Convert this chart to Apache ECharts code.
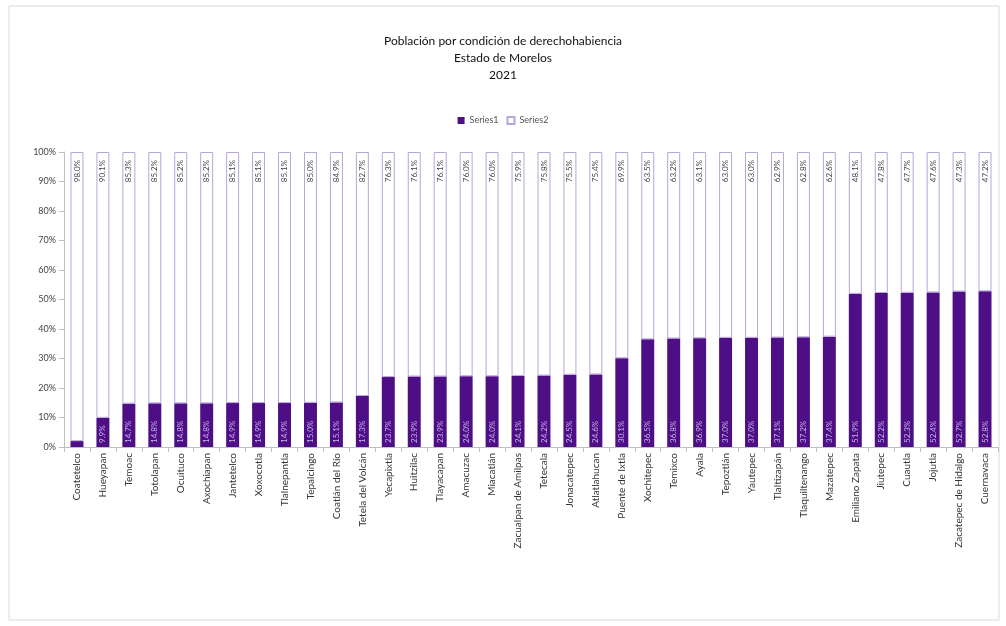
<!DOCTYPE html>
<html>
<head>
<meta charset="utf-8">
<script src="https://cdn.jsdelivr.net/npm/echarts@6/dist/echarts.min.js"></script>
<style>html,body{margin:0;padding:0;background:#fff}#c{width:1006px;height:626px}</style>
</head>
<body>
<div id="c"></div>
<script>
const categories = ["Coatetelco","Hueyapan","Temoac","Totolapan","Ocuituco","Axochiapan","Jantetelco","Xoxocotla","Tlalnepantla","Tepalcingo","Coatlán del Río","Tetela del Volcán","Yecapixtla","Huitzilac","Tlayacapan","Amacuzac","Miacatlán","Zacualpan de Amilpas","Tetecala","Jonacatepec","Atlatlahucan","Puente de Ixtla","Xochitepec","Temixco","Ayala","Tepoztlán","Yautepec","Tlaltizapán","Tlaquiltenango","Mazatepec","Emiliano Zapata","Jiutepec","Cuautla","Jojutla","Zacatepec de Hidalgo","Cuernavaca"];
const series2 = [98.0,90.1,85.3,85.2,85.2,85.2,85.1,85.1,85.1,85.0,84.9,82.7,76.3,76.1,76.1,76.0,76.0,75.9,75.8,75.5,75.4,69.9,63.5,63.2,63.1,63.0,63.0,62.9,62.8,62.6,48.1,47.8,47.7,47.6,47.3,47.2];
const series1 = [2.0,9.9,14.7,14.8,14.8,14.8,14.9,14.9,14.9,15.0,15.1,17.3,23.7,23.9,23.9,24.0,24.0,24.1,24.2,24.5,24.6,30.1,36.5,36.8,36.9,37.0,37.0,37.1,37.2,37.4,51.9,52.2,52.3,52.4,52.7,52.8];
const yTicks = [0,10,20,30,40,50,60,70,80,90,100];

const chart = echarts.init(document.getElementById('c'));
const font = 'Lato, "DejaVu Sans", sans-serif';
chart.setOption({
  animation: false,
  textStyle: {fontFamily: font},
  graphic: [{type:'rect', shape:{x:9,y:6,width:990,height:614}, style:{fill:'none', stroke:'#d9d9d9', lineWidth:1}}],
  title: {
    text: 'Población por condición de derechohabiencia\nEstado de Morelos\n2021',
    left: 'center', top: 28,
    textStyle: {fontSize: 12, fontWeight: 'normal', color: '#111', lineHeight: 17, fontFamily: font}
  },
  legend: {
    top: 111, left: 'center', itemWidth: 7, itemHeight: 7, itemGap: 8,
    textStyle: {fontSize: 9, color: '#555'},
    data: [{name:'Series1', icon:'rect'}, {name:'Series2', icon:'rect'}]
  },
  grid: {left: 64, right: 8, top: 152, bottom: 179},
  xAxis: {
    type: 'category', data: categories,
    axisLine: {lineStyle: {color: '#bfbfbf'}},
    axisTick: {show: true, alignWithLabel: false, lineStyle: {color: '#bfbfbf'}},
    axisLabel: {rotate: 90, interval: 0, fontSize: 10, color: '#333', margin: 6}
  },
  yAxis: {
    type: 'value', min: 0, max: 100, interval: 10,
    axisLine: {show: true, lineStyle: {color: '#bfbfbf'}},
    axisTick: {show: true, lineStyle: {color: '#bfbfbf'}},
    splitLine: {show: false},
    axisLabel: {fontSize: 9, color: '#444', formatter: v => yTicks.includes(v) ? v + '%' : ''}
  },
  series: [
    {
      name: 'Series1', type: 'bar', stack: 'a', data: series1, barWidth: '50%',
      itemStyle: {color: '#4e0f86'},
      label: {show: true, position: 'insideBottom', rotate: 90, align: 'left', verticalAlign: 'middle', distance: 4,
        fontSize: 8, color: '#c9b3ea', formatter: p => p.value < 5 ? '' : p.value.toFixed(1) + '%'}
    },
    {
      name: 'Series2', type: 'bar', stack: 'a', data: series2, barWidth: '50%',
      itemStyle: {color: '#ffffff', borderColor: '#b7a6d9', borderWidth: 1},
      label: {show: true, position: 'insideTop', rotate: 90, align: 'right', verticalAlign: 'middle', distance: 8,
        fontSize: 8, color: '#444', formatter: p => p.value.toFixed(1) + '%'}
    }
  ]
});
</script>
</body>
</html>
